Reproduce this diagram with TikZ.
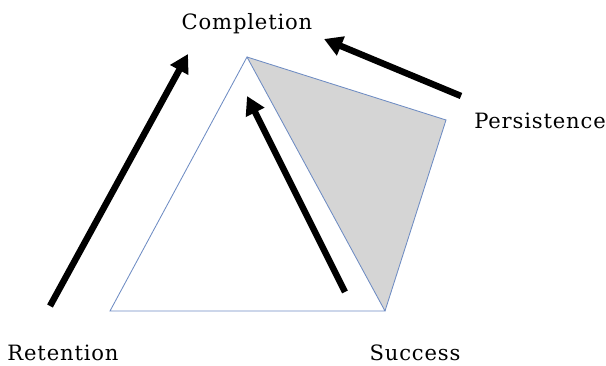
\documentclass[tikz,border=0pt]{standalone}
\usepackage{fontspec}
\setmainfont{DejaVu Serif}[LetterSpace=4]
\usetikzlibrary{arrows.meta}
\definecolor{edgeblue}{RGB}{110,140,195}

\begin{document}
\begin{tikzpicture}[x=0.025cm,y=-0.025cm]
\useasboundingbox (0,0) rectangle (606,366);
\tikzset{edge/.style={draw=edgeblue,line width=0.6pt},
  bigarrow/.style={line width=4.6pt,-{Triangle[length=13pt,width=14pt]}},
  lbl/.style={font=\fontsize{15}{17}\selectfont,inner sep=0pt}}

\coordinate (top) at (247,57);
\coordinate (bl) at (110,311);
\coordinate (br) at (385,311);
\coordinate (rc) at (446,120);

\fill[gray!33] (top) -- (rc) -- (br) -- cycle;
\draw[edge] (top) -- (rc) -- (br);
\draw[edge] (top) -- (bl) -- (br) -- cycle;

\node[lbl] (c) at (247,24) {Completion};
\node[lbl] (p) at (540,121) {Persistence};
\node[lbl] (r) at (63,353) {Retention};
\node[lbl] (s) at (415,353) {Success};

\coordinate (r1) at (50,306);
\coordinate (r2) at (188,54);
\coordinate (s1) at (345,292);
\coordinate (s2) at (247,96);
\coordinate (p1) at (461,96);
\coordinate (p2) at (324,39);

\draw[bigarrow] (r1) -- (r2);
\draw[bigarrow] (s1) -- (s2);
\draw[bigarrow] (p1) -- (p2);
\end{tikzpicture}
\end{document}
